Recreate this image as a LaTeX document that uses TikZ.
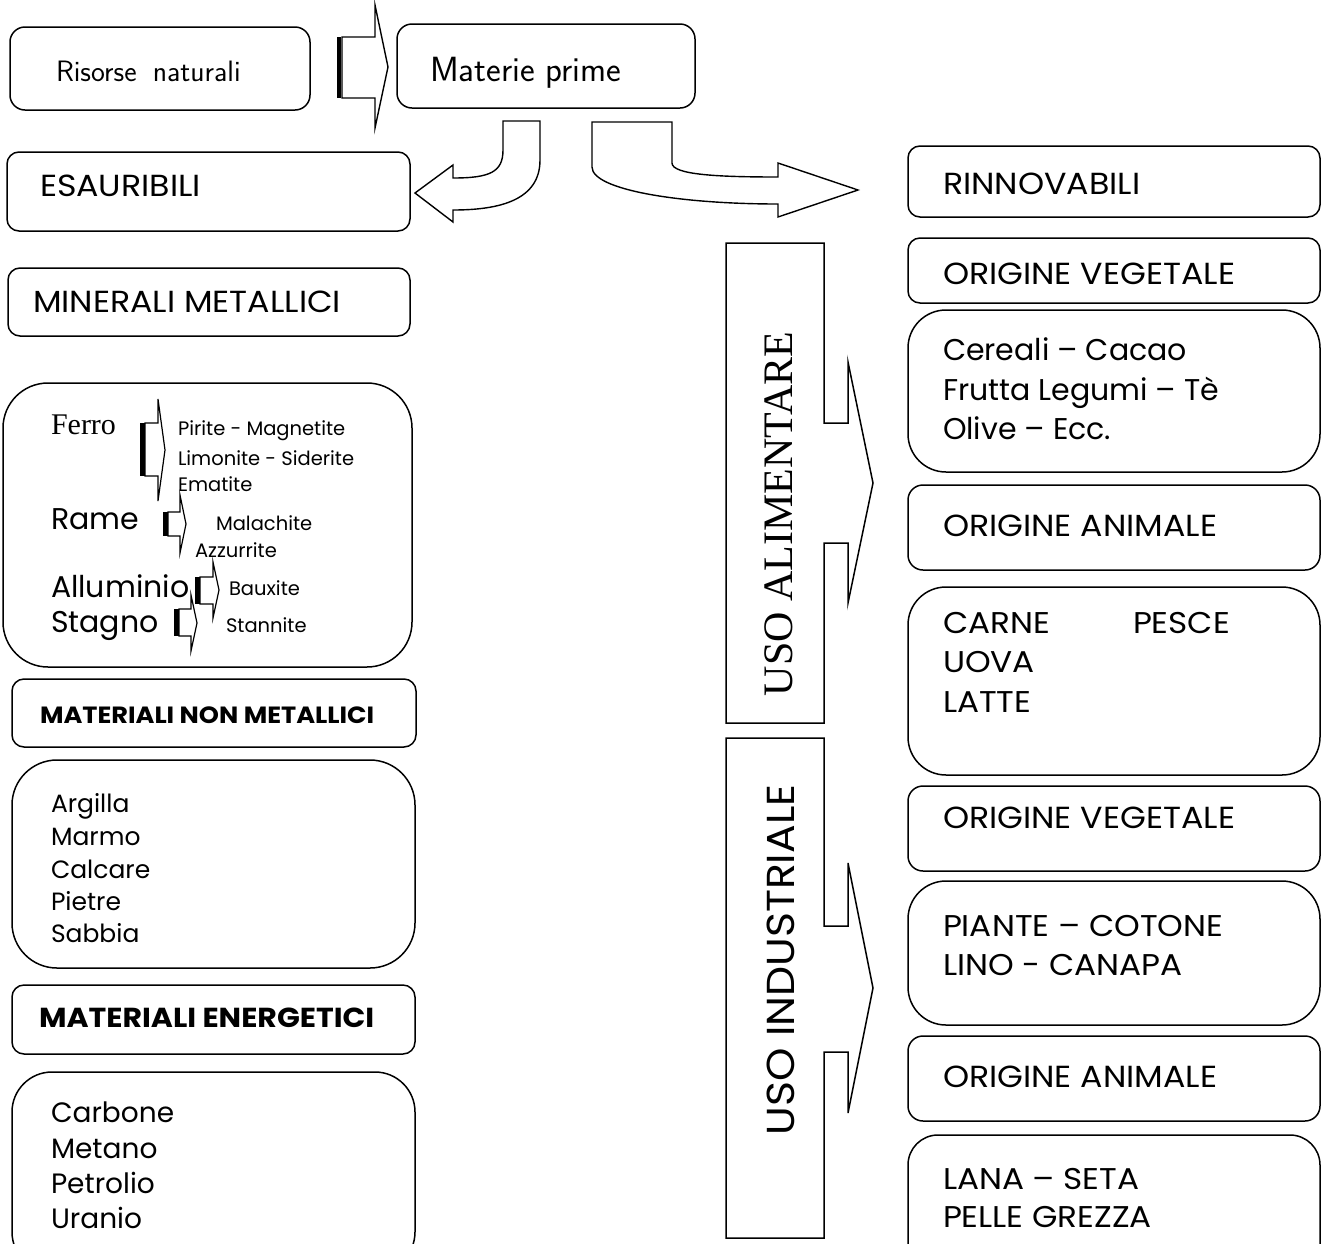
\documentclass[tikz,border=0pt]{standalone}
\usepackage{fontspec}
\setmainfont{Poppins}
\newfontfamily\capsfam[FakeStretch=1.09]{Poppins}
\newfontfamily\seriffam{Liberation Serif}
\begin{document}
\begin{tikzpicture}[x=1pt,y=-1pt,line join=round]
\tikzset{
  frame/.style={draw=black, line width=1.5pt, rounded corners=#1, anchor=north west, inner sep=0pt, outer sep=0pt},
  frame/.default=12pt,
  blockarrow/.style={draw=black, line width=1.4pt, fill=white, line join=miter},
  lbl/.style={anchor=base west, inner sep=0pt, outer sep=0pt},
  hdr/.style={lbl, font=\capsfam\fontsize{30.5}{36}\selectfont},
  capitem/.style={lbl, font=\capsfam\fontsize{30}{36}\selectfont},
  item/.style={lbl, font=\fontsize{30}{36}\selectfont},
  hand/.style={lbl, font=\sffamily\fontsize{#1}{#1}\selectfont},
  bold/.style={lbl, font=\capsfam\bfseries\fontsize{#1}{#1}\selectfont},
  small/.style={lbl, font=\fontsize{19.5}{24}\selectfont},
  metal/.style={lbl, font=\fontsize{30}{36}\selectfont},
  list/.style={lbl, font=\fontsize{#1}{#1}\selectfont},
}
\clip (0,0) rectangle (1326,1243);
\fill[white] (0,0) rectangle (1326,1243);

% ---------- top row ----------
\node[frame=15pt, minimum width=300pt, minimum height=83pt] (risorse) at (10,27) {};
\node[hand=29.5] (trisorse) at (56,81) {Risorse\hspace{0.55em}naturali};
\node[frame=15pt, minimum width=298pt, minimum height=84pt] (materie) at (397,24) {};
\node[hand=35] (tmaterie) at (430,81) {Materie prime};

% block arrow between the two top boxes
\fill (337,37) rectangle (341,98);
\draw[blockarrow] (342,37) -- (375,37) -- (375,5) -- (388,67) -- (375,128) -- (375,98) -- (342,98) -- cycle;

% curved arrow towards ESAURIBILI
\draw[blockarrow] (503,121) -- (540,121) -- (540,160)
  .. controls (540,200) and (500,210) .. (453,210)
  -- (453,222) -- (415,193) -- (453,165) -- (453,178)
  .. controls (490,178) and (503,172) .. (503,150) -- cycle;

% curved arrow towards RINNOVABILI
\draw[blockarrow] (592,122) -- (672,122) -- (672,163)
  .. controls (672,175) and (720,177) .. (778,177)
  -- (778,163) -- (858,190) -- (778,217) -- (778,204)
  .. controls (680,204) and (592,190) .. (592,167) -- cycle;

% ---------- left column ----------
\node[frame, minimum width=403pt, minimum height=79pt] (esaur) at (7,152) {};
\node[hdr] (tesaur) at (40,196) {ESAURIBILI};

\node[frame, minimum width=402pt, minimum height=68pt] (miner) at (8,268) {};
\node[hdr] (tminer) at (33,312) {MINERALI METALLICI};

\node[frame=45pt, minimum width=409pt, minimum height=284pt] (metal) at (3,383) {};
\node[lbl, font=\seriffam\fontsize{30}{36}\selectfont] (tferro) at (51,434) {Ferro};
\node[small] (tpirite) at (178,435) {Pirite - Magnetite};
\node[small] (tlimon) at (178,465) {Limonite - Siderite};
\node[small] (temat) at (178,491) {Ematite};
\node[metal] (trame) at (51,529) {Rame};
\node[small] (tmalac) at (216,530) {Malachite};
\node[small] (tazzur) at (195,557) {Azzurrite};
\node[metal] (tallum) at (51,597) {Alluminio};
\node[small] (tbaux) at (229,595) {Bauxite};
\node[metal] (tstagno) at (51,632) {Stagno};
\node[small] (tstann) at (226,632) {Stannite};

% small block arrows inside the metals box
\fill (140,423) rectangle (145,476);
\draw[blockarrow, line width=1.2pt] (145,423) -- (158,423) -- (158,399) -- (165,450) -- (158,501) -- (158,476) -- (145,476) -- cycle;
\fill (163,512) rectangle (168,536);
\draw[blockarrow, line width=1.2pt] (168,512) -- (180,512) -- (180,495) -- (186,524) -- (180,553) -- (180,536) -- (168,536) -- cycle;
\fill (195,577) rectangle (200,604);
\draw[blockarrow, line width=1.2pt] (200,577) -- (213,577) -- (213,562) -- (219,590) -- (213,618) -- (213,604) -- (200,604) -- cycle;
\fill (174,609) rectangle (179,636);
\draw[blockarrow, line width=1.2pt] (179,609) -- (191,609) -- (191,595) -- (197,623) -- (191,651) -- (191,636) -- (179,636) -- cycle;

\node[frame, minimum width=404pt, minimum height=68pt] (nonmet) at (12,679) {};
\node[bold=23.5] (tnonmet) at (40,723) {MATERIALI NON METALLICI};

\node[frame=45pt, minimum width=403pt, minimum height=208pt] (nonlist) at (12,760) {};
\node[list=25] (targ) at (51,812) {Argilla};
\node[list=25] (tmarm) at (51,845) {Marmo};
\node[list=25] (tcalc) at (51,878) {Calcare};
\node[list=25] (tpiet) at (51,910) {Pietre};
\node[list=25] (tsabb) at (51,942) {Sabbia};

\node[frame, minimum width=403pt, minimum height=69pt] (energ) at (12,985) {};
\node[bold=27.5] (tenerg) at (39,1027) {MATERIALI ENERGETICI};

\node[frame=40pt, minimum width=403pt, minimum height=200pt] (enlist) at (12,1072) {};
\node[list=28] (tcarb) at (51,1122) {Carbone};
\node[list=28] (tmeta) at (51,1158) {Metano};
\node[list=28] (tpetr) at (51,1193) {Petrolio};
\node[list=28] (turan) at (51,1228) {Uranio};

% ---------- middle column: usage panels with built-in arrows ----------
\draw[blockarrow, line width=1.5pt] (726,243) -- (824,243) -- (824,423) -- (848,423) -- (848,362)
  -- (873,483) -- (848,603) -- (848,543) -- (824,543) -- (824,723) -- (726,723) -- cycle;
\node[rotate=90, inner sep=0pt, font=\seriffam\fontsize{42}{44}\selectfont] (alim) at (779,514) {USO ALIMENTARE};

\draw[blockarrow, line width=1.5pt] (726,738) -- (824,738) -- (824,926) -- (848,926) -- (848,863)
  -- (873,988) -- (848,1113) -- (848,1052) -- (824,1052) -- (824,1238) -- (726,1238) -- cycle;
\node[rotate=90, inner sep=0pt, font=\capsfam\fontsize{39}{44}\selectfont] (indu) at (781,960) {USO INDUSTRIALE};

% ---------- right column ----------
\node[frame, minimum width=412pt, minimum height=71pt] (rinn) at (908,146) {};
\node[hdr] (trinn) at (943,194) {RINNOVABILI};

\node[frame, minimum width=412pt, minimum height=65pt] (ov1) at (908,238) {};
\node[hdr] (tov1) at (943,284) {ORIGINE VEGETALE};

\node[frame=38pt, minimum width=412pt, minimum height=162pt] (cer) at (908,310) {};
\node[item] (tcer1) at (943,360) {Cereali – Cacao};
\node[item] (tcer2) at (943,400) {Frutta Legumi – Tè};
\node[item] (tcer3) at (943,439) {Olive – Ecc.};

\node[frame=15pt, minimum width=412pt, minimum height=85pt] (oa1) at (908,485) {};
\node[hdr] (toa1) at (943,536) {ORIGINE ANIMALE};

\node[frame=38pt, minimum width=412pt, minimum height=188pt] (carne) at (908,587) {};
\node[capitem] (tcarne) at (943,633) {CARNE};
\node[capitem] (tpesce) at (1133,633) {PESCE};
\node[capitem] (tuova) at (943,672) {UOVA};
\node[capitem] (tlatte) at (943,712) {LATTE};

\node[frame=15pt, minimum width=412pt, minimum height=85pt] (ov2) at (908,786) {};
\node[hdr] (tov2) at (943,828) {ORIGINE VEGETALE};

\node[frame=38pt, minimum width=412pt, minimum height=144pt] (piante) at (908,881) {};
\node[capitem] (tpia1) at (943,936) {PIANTE – COTONE};
\node[capitem] (tpia2) at (943,975) {LINO - CANAPA};

\node[frame=15pt, minimum width=412pt, minimum height=85pt] (oa2) at (908,1036) {};
\node[hdr] (toa2) at (943,1087) {ORIGINE ANIMALE};

\node[frame=30pt, minimum width=412pt, minimum height=150pt] (lana) at (908,1135) {};
\node[capitem] (tlana1) at (943,1189) {LANA – SETA};
\node[capitem] (tlana2) at (943,1227) {PELLE GREZZA};
\end{tikzpicture}
\end{document}
